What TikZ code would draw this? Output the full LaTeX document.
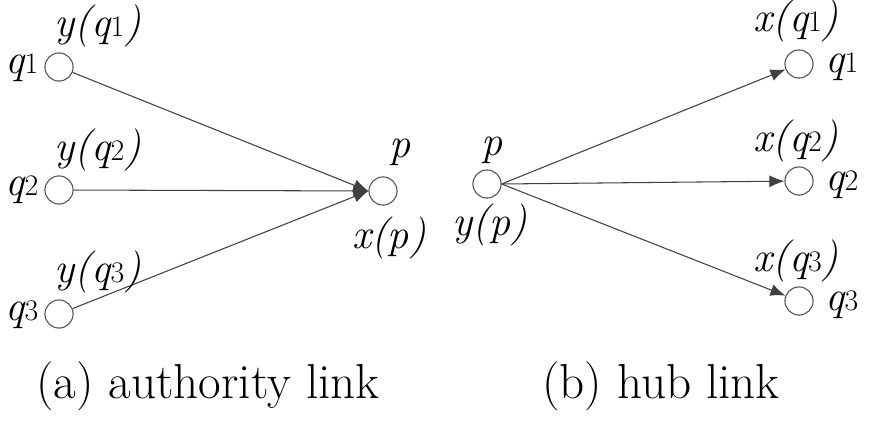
\documentclass[tikz,border=0pt]{standalone}
\usetikzlibrary{positioning,arrows.meta}
\tikzset{
  vert/.style={circle, draw=black!70, line width=0.6pt, minimum size=16pt, inner sep=0pt},
  vlabel/.style={inner sep=0pt, font=\fontsize{24}{26}\selectfont\itshape},
  linkarrow/.style={-{Latex[length=3mm,width=2.4mm]}, line width=0.6pt, black!75},
  caption/.style={inner sep=0pt, font=\fontsize{28}{30}\selectfont},
}
\newcommand{\qnum}[1]{q{\upshape\fontsize{17}{18}\selectfont #1}}

\begin{document}
\begin{tikzpicture}[x=0.02cm, y=-0.02cm]
  \useasboundingbox (0,0) rectangle (870,425);
  % (a) authority
  \node[vert] (a1) at (59,67) {};
  \node[vert] (a2) at (59,190) {};
  \node[vert] (a3) at (59,314) {};
  \node[vert] (ap) at (383,191) {};
  \draw[linkarrow] (a1) -- (ap.west);
  \draw[linkarrow] (a2) -- (ap.west);
  \draw[linkarrow] (a3) -- (ap.west);
  \node[vlabel] (la1) at (22,68) {\qnum{1}};
  \node[vlabel] (la2) at (22,190) {\qnum{2}};
  \node[vlabel] (la3) at (22,315) {\qnum{3}};
  \node[vlabel] (ya1) at (98,26) {y(\qnum{1})};
  \node[vlabel] (ya2) at (98,150) {y(\qnum{2})};
  \node[vlabel] (ya3) at (98,272) {y(\qnum{3})};
  \node[vlabel] (lap) at (400,152) {p};
  \node[vlabel] (xap) at (389,238) {x(p)};
  % (b) hub
  \node[vert] (bp) at (487,184) {};
  \node[vert] (b1) at (799,64) {};
  \node[vert] (b2) at (799,181) {};
  \node[vert] (b3) at (799,301) {};
  \draw[linkarrow] (bp.east) -- (b1);
  \draw[linkarrow] (bp.east) -- (b2);
  \draw[linkarrow] (bp.east) -- (b3);
  \node[vlabel] (lbp) at (492,150) {p};
  \node[vlabel] (ybp) at (490,225) {y(p)};
  \node[vlabel] (lb1) at (842,67) {\qnum{1}};
  \node[vlabel] (lb2) at (842,185) {\qnum{2}};
  \node[vlabel] (lb3) at (842,305) {\qnum{3}};
  \node[vlabel] (xb1) at (796,21) {x(\qnum{1})};
  \node[vlabel] (xb2) at (796,141) {x(\qnum{2})};
  \node[vlabel] (xb3) at (796,261) {x(\qnum{3})};
  % captions
  \node[caption] (capa) at (208,386) {(a) authority link};
  \node[caption] (capb) at (661,386) {(b) hub link};
\end{tikzpicture}
\end{document}
